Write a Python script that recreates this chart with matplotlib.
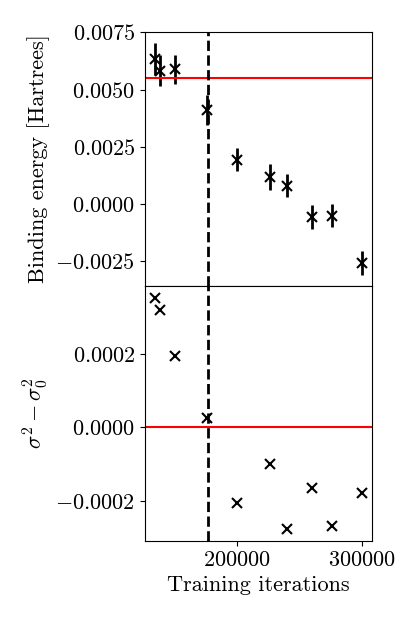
import numpy as np
import matplotlib
matplotlib.use('Agg')
import matplotlib.pyplot as plt
from matplotlib.ticker import MultipleLocator, FuncFormatter

plt.rcParams['font.family'] = 'serif'
plt.rcParams['font.serif'] = ['cmr10']
plt.rcParams['mathtext.fontset'] = 'cm'
plt.rcParams['axes.formatter.use_mathtext'] = True
plt.rcParams['font.size'] = 16

# data
iterations = [134000, 138000, 150000, 176000, 200000, 226000, 240000, 260000, 276000, 300000]
binding = [0.00632, 0.00582, 0.00589, 0.00410, 0.00193, 0.00120, 0.00081, -0.00057, -0.00051, -0.00257]
binding_err = [0.00070, 0.00068, 0.00063, 0.00065, 0.00050, 0.00057, 0.00050, 0.00052, 0.00050, 0.00051]
var_diff = [0.000352, 0.000320, 0.000193, 0.0000245, -0.000207, -0.000100, -0.000277, -0.000166, -0.000269, -0.000178]
reference_energy = 0.00549
chosen_iter = 176300


def fmt(v, pos):
    return f'${v:.4f}$'


fig, (ax1, ax2) = plt.subplots(2, 1, sharex=True, figsize=(4.15, 6.23), dpi=100)
fig.subplots_adjust(left=0.349, right=0.896, top=0.949, bottom=0.132, hspace=0)

ax1.errorbar(iterations, binding, yerr=binding_err, fmt='x', color='black',
             ecolor='black', elinewidth=2, markersize=7, markeredgewidth=1.5)
ax1.axhline(reference_energy, color='red', lw=1.5)
ax1.axvline(chosen_iter, color='black', ls='--', lw=2)
ax1.set_ylabel('Binding energy [Hartrees]')
ax1.yaxis.set_major_locator(MultipleLocator(0.0025))
ax1.yaxis.set_major_formatter(FuncFormatter(fmt))

ax2.plot(iterations, var_diff, 'x', color='black', markersize=7, markeredgewidth=1.5)
ax2.axhline(0, color='red', lw=1.5)
ax2.axvline(chosen_iter, color='black', ls='--', lw=2)
ax2.set_ylabel(r'$\sigma^2 - \sigma_0^2$')
ax2.set_xlabel('Training iterations')
ax2.yaxis.set_major_locator(MultipleLocator(0.0002))
ax2.yaxis.set_major_formatter(FuncFormatter(fmt))
ax2.xaxis.set_major_locator(MultipleLocator(100000))
ax2.xaxis.set_major_formatter(FuncFormatter(lambda v, p: f'${v:.0f}$'))

fig.savefig('out.png', dpi=100)
